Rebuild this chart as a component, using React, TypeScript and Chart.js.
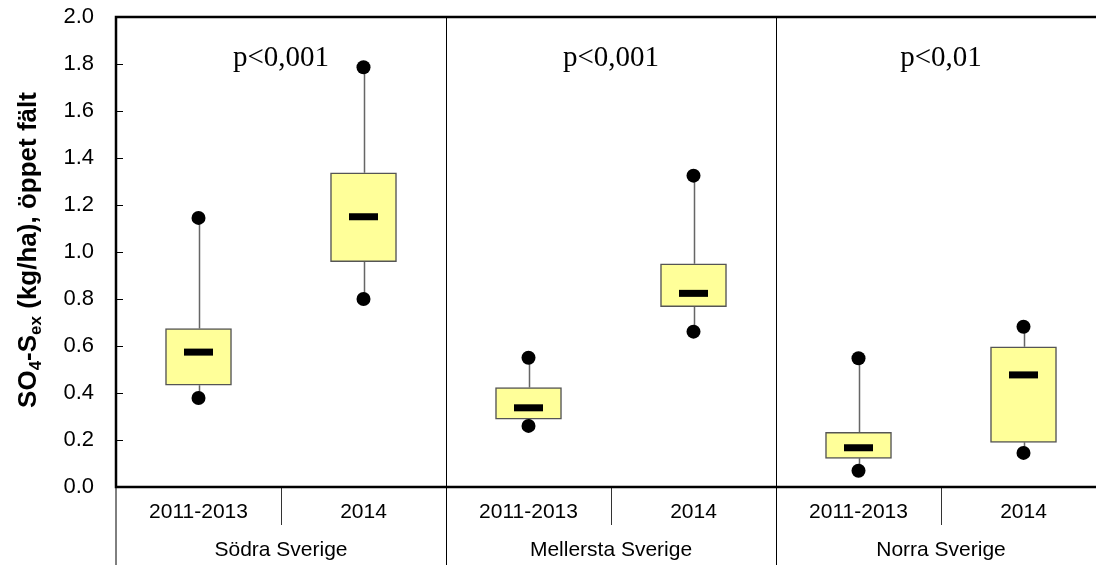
import { useEffect, useRef } from "react";
import { Chart, registerables } from "chart.js";

Chart.register(...registerables);

const categories = ["2011-2013", "2014", "2011-2013", "2014", "2011-2013", "2014"];
const groups = ["Södra Sverige", "Mellersta Sverige", "Norra Sverige"];
const pValues = ["p<0,001", "p<0,001", "p<0,01"];
const minValues = [0.379, 0.8, 0.26, 0.661, 0.069, 0.145];
const q1Values = [0.433, 0.959, 0.289, 0.767, 0.122, 0.19];
const medianValues = [0.574, 1.15, 0.337, 0.824, 0.167, 0.477];
const q3Values = [0.674, 1.337, 0.423, 0.95, 0.233, 0.597];
const maxValues = [1.145, 1.786, 0.55, 1.325, 0.548, 0.682];
const yTicks = [0, 0.2, 0.4, 0.6, 0.8, 1.0, 1.2, 1.4, 1.6, 1.8, 2.0];

const SANS = "'Liberation Sans', Arial, sans-serif";
const SERIF = "'Liberation Serif', 'Times New Roman', serif";

const boxPlugin = {
  id: "boxExtras",
  beforeDatasetsDraw(chart: any) {
    const { ctx, scales } = chart;
    const xs = scales.x, ys = scales.y;
    ctx.save();
    ctx.strokeStyle = "#666666";
    ctx.lineWidth = 1.5;
    categories.forEach((_, i) => {
      const x = Math.round(xs.getPixelForValue(i)) + 0.5;
      ctx.beginPath();
      ctx.moveTo(x, ys.getPixelForValue(maxValues[i]));
      ctx.lineTo(x, ys.getPixelForValue(q3Values[i]));
      ctx.moveTo(x, ys.getPixelForValue(q1Values[i]));
      ctx.lineTo(x, ys.getPixelForValue(minValues[i]));
      ctx.stroke();
    });
    ctx.restore();
  },
  afterDatasetsDraw(chart: any) {
    const { ctx, scales } = chart;
    const xs = scales.x, ys = scales.y;
    ctx.save();
    ctx.fillStyle = "#000";
    categories.forEach((_, i) => {
      const x = xs.getPixelForValue(i);
      const y = ys.getPixelForValue(medianValues[i]);
      ctx.fillRect(x - 14.5, y - 3.5, 29, 7);
    });
    ctx.restore();
  },
  afterDraw(chart: any) {
    const { ctx, scales, chartArea } = chart;
    const xs = scales.x, ys = scales.y;
    const { left, right, top, bottom } = chartArea;
    const H = chart.height;
    const half = (xs.getPixelForValue(1) - xs.getPixelForValue(0)) / 2;
    ctx.save();
    ctx.strokeStyle = "#000";
    ctx.lineWidth = 1;
    for (let g = 1; g < groups.length; g++) {
      const x = Math.round(xs.getPixelForValue(g * 2) - half) + 0.5;
      ctx.beginPath();
      ctx.moveTo(x, top);
      ctx.lineTo(x, H);
      ctx.stroke();
    }
    ctx.strokeStyle = "#333";
    for (let g = 0; g < groups.length; g++) {
      const x = Math.round(xs.getPixelForValue(g * 2) + half) + 0.5;
      ctx.beginPath();
      ctx.moveTo(x, bottom);
      ctx.lineTo(x, bottom + 38);
      ctx.stroke();
    }
    ctx.strokeStyle = "#000";
    ctx.beginPath();
    ctx.moveTo(left, bottom);
    ctx.lineTo(left, H);
    ctx.stroke();
    yTicks.forEach((t) => {
      const y = Math.round(ys.getPixelForValue(t)) + 0.5;
      ctx.beginPath();
      ctx.moveTo(left, y);
      ctx.lineTo(left + 7, y);
      ctx.stroke();
    });
    ctx.lineWidth = 2.5;
    ctx.beginPath();
    ctx.moveTo(right, top);
    ctx.lineTo(left, top);
    ctx.lineTo(left, bottom);
    ctx.lineTo(right, bottom);
    ctx.stroke();
    ctx.fillStyle = "#000";
    ctx.textAlign = "center";
    ctx.textBaseline = "middle";
    ctx.font = `21px ${SANS}`;
    categories.forEach((c, i) => {
      ctx.fillText(c, xs.getPixelForValue(i), bottom + 25);
    });
    groups.forEach((g, gi) => {
      const x = (xs.getPixelForValue(gi * 2) + xs.getPixelForValue(gi * 2 + 1)) / 2;
      ctx.fillText(g, x, bottom + 63);
    });
    ctx.font = `29px ${SERIF}`;
    ctx.textBaseline = "alphabetic";
    pValues.forEach((p, gi) => {
      const x = (xs.getPixelForValue(gi * 2) + xs.getPixelForValue(gi * 2 + 1)) / 2;
      ctx.fillText(p, x, top + 49);
    });
    const segs = [
      { t: "SO", sub: false },
      { t: "4", sub: true },
      { t: "-S", sub: false },
      { t: "ex", sub: true },
      { t: " (kg/ha), öppet fält", sub: false },
    ];
    const mainFont = `bold 26px ${SANS}`;
    const subFont = `bold 17px ${SANS}`;
    let total = 0;
    segs.forEach((s) => {
      ctx.font = s.sub ? subFont : mainFont;
      total += ctx.measureText(s.t).width;
    });
    ctx.translate(36, 250);
    ctx.rotate(-Math.PI / 2);
    ctx.textAlign = "left";
    let cx = -total / 2;
    segs.forEach((s) => {
      ctx.font = s.sub ? subFont : mainFont;
      ctx.fillText(s.t, cx, s.sub ? 5 : 0);
      cx += ctx.measureText(s.t).width;
    });
    ctx.restore();
  },
};

export default function App() {
  const ref = useRef<HTMLCanvasElement | null>(null);
  useEffect(() => {
    if (!ref.current) return;
    const chart = new Chart(ref.current, {
      type: "bar",
      data: {
        labels: categories,
        datasets: [
          {
            type: "line",
            data: minValues,
            showLine: false,
            pointRadius: 7,
            pointBackgroundColor: "#000",
            pointBorderWidth: 0,
            order: 0,
          } as any,
          {
            type: "line",
            data: maxValues,
            showLine: false,
            pointRadius: 7,
            pointBackgroundColor: "#000",
            pointBorderWidth: 0,
            order: 0,
          } as any,
          {
            type: "bar",
            data: q1Values.map((q, i) => [q, q3Values[i]]),
            backgroundColor: "#FFFF99",
            borderColor: "#555555",
            borderWidth: 1.5,
            borderSkipped: false,
            barThickness: 66,
            order: 1,
          } as any,
        ],
      },
      options: {
        animation: false,
        responsive: false,
        maintainAspectRatio: false,
        devicePixelRatio: 1,
        layout: { autoPadding: false, padding: { top: 17, bottom: 78, left: 0, right: 4 } },
        plugins: { legend: { display: false }, tooltip: { enabled: false } },
        scales: {
          x: { display: false, offset: true },
          y: {
            min: 0,
            max: 2,
            afterFit: (s: any) => {
              s.width = 116;
              s.paddingTop = 0;
              s.paddingBottom = 0;
            },
            afterBuildTicks: (s: any) => {
              s.ticks = yTicks.map((v) => ({ value: v }));
            },
            grid: { display: false },
            border: { display: false },
            ticks: {
              padding: 14,
              color: "#000",
              font: { family: SANS, size: 22 },
              callback: (v: any) => Number(v).toFixed(1),
            },
          },
        },
      },
      plugins: [boxPlugin],
    });
    return () => chart.destroy();
  }, []);
  return (
    <div
      style={{
        position: "fixed",
        left: 0,
        top: 0,
        width: 1096,
        height: 565,
        overflow: "hidden",
        background: "#fff",
      }}
    >
      <canvas ref={ref} width={1110} height={565} style={{ display: "block" }} />
    </div>
  );
}
